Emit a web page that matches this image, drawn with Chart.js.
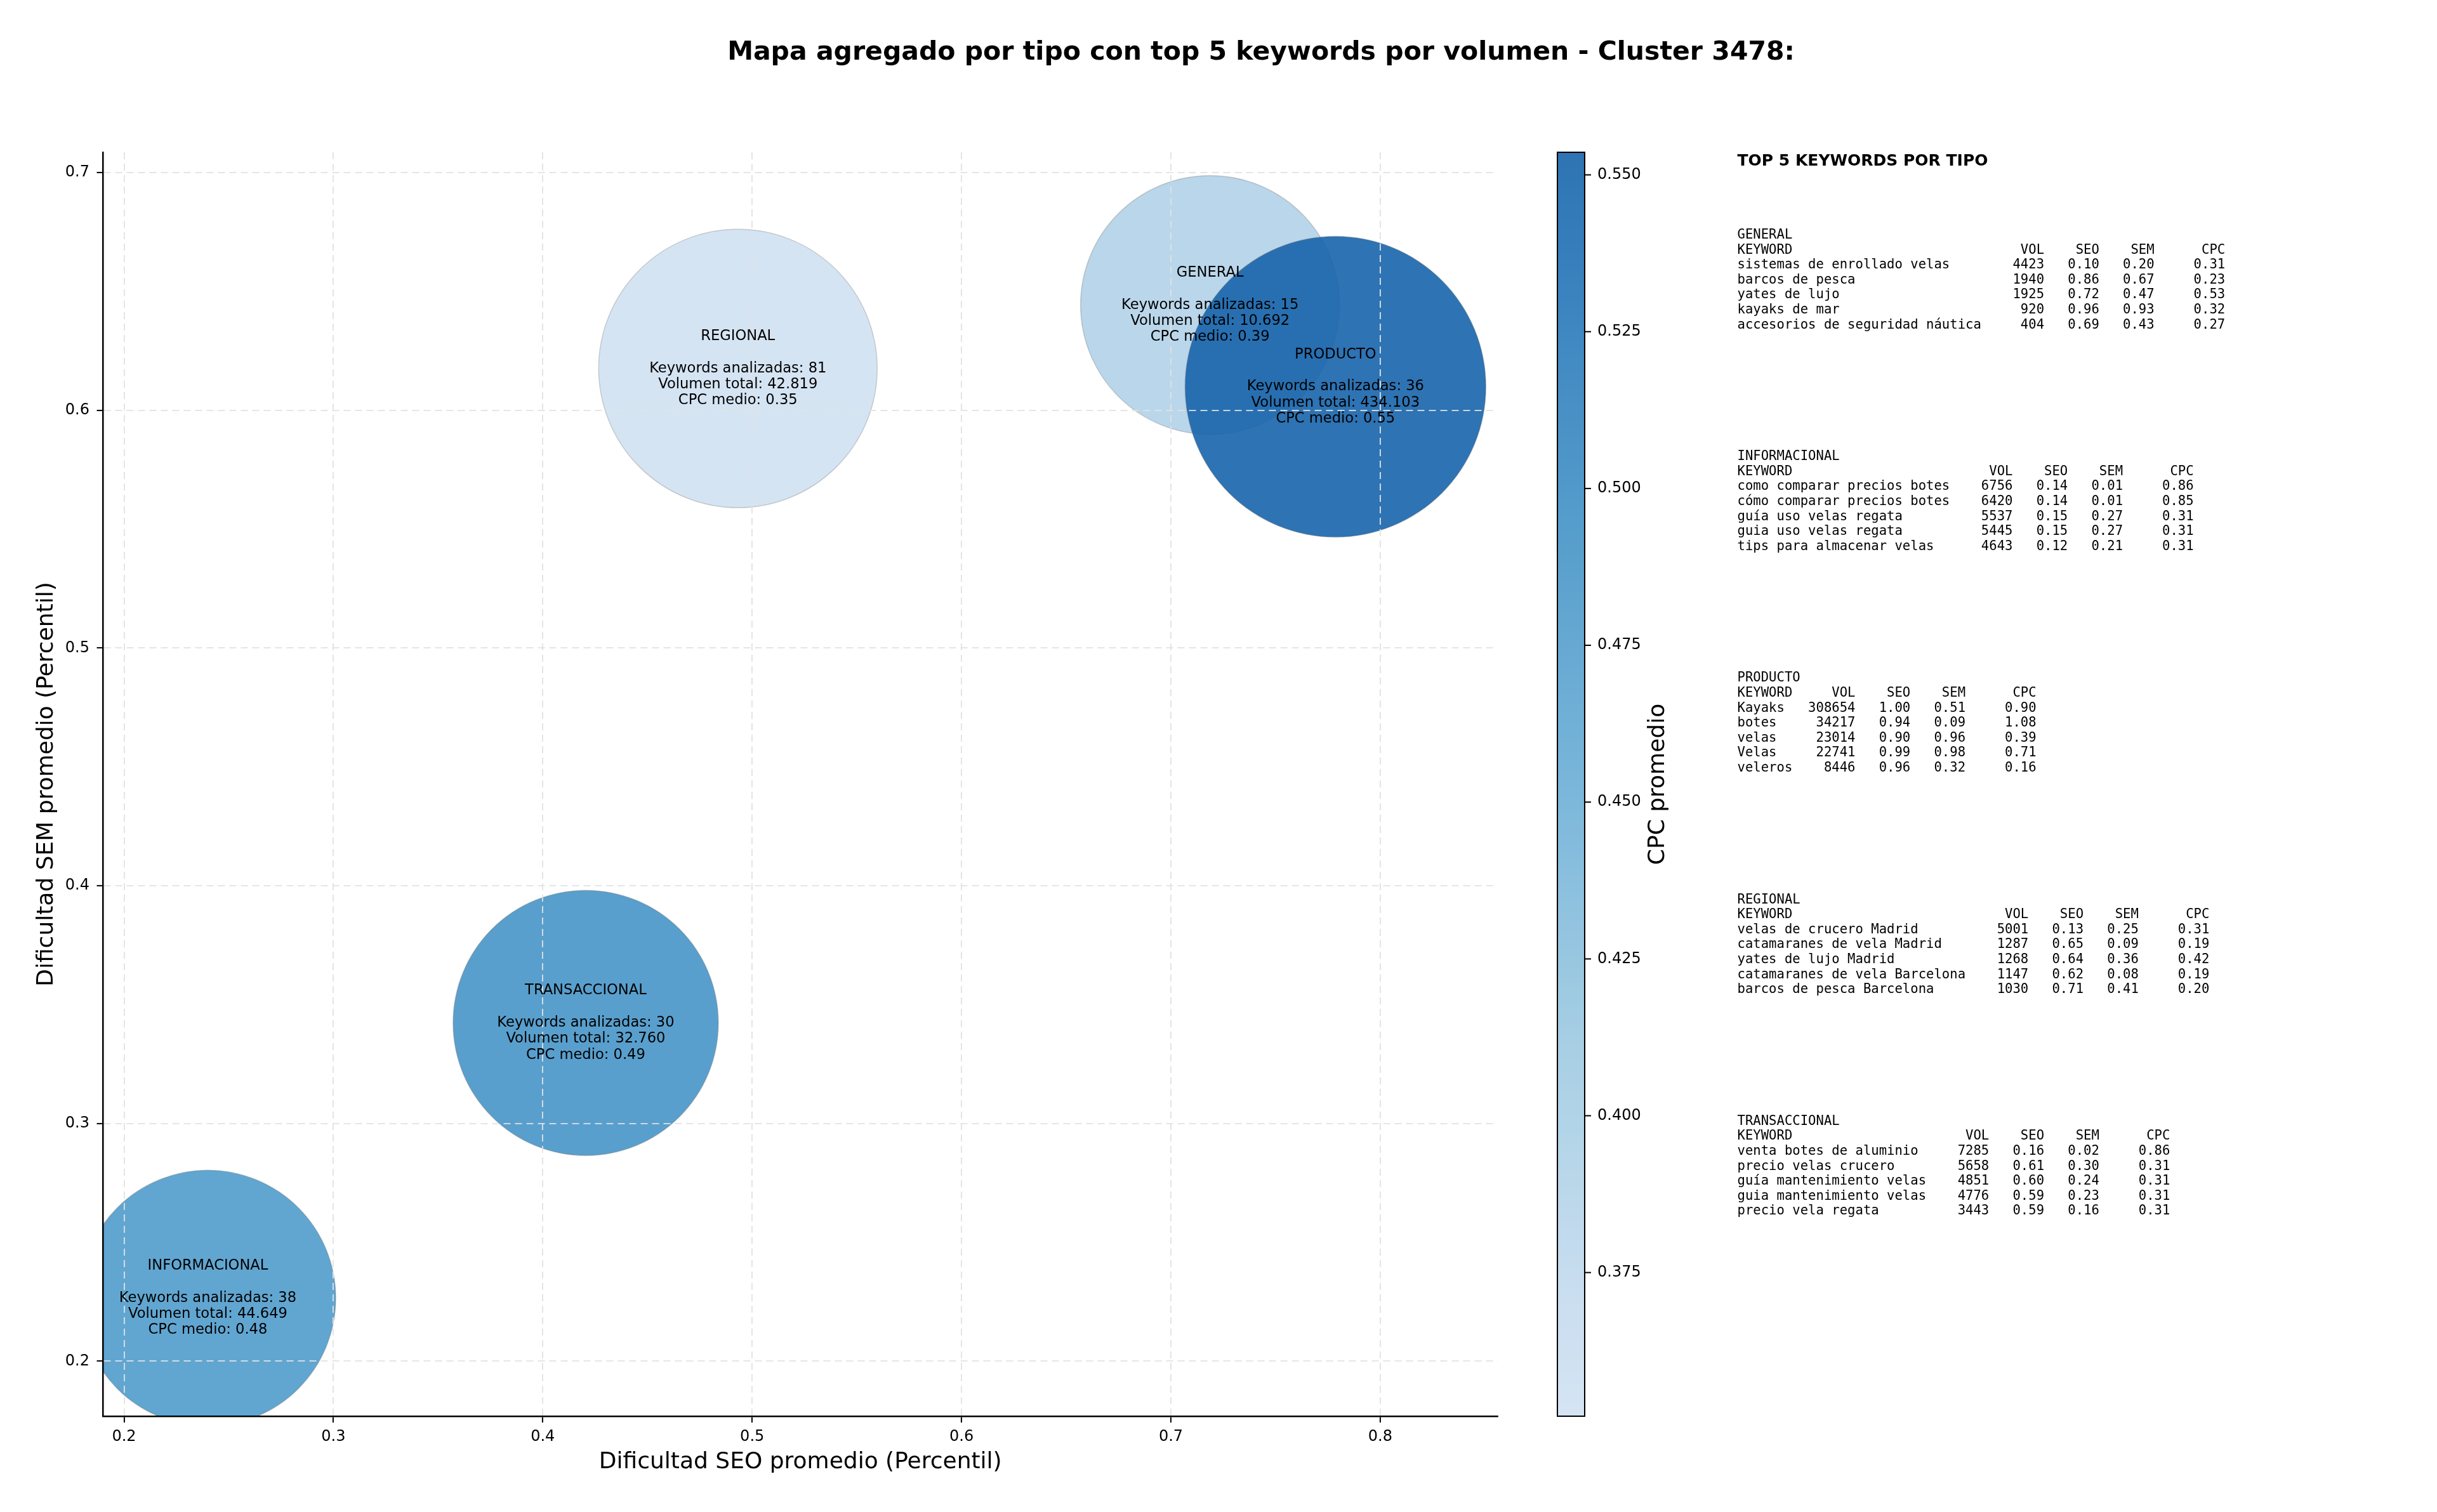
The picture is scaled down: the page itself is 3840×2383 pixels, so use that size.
<!DOCTYPE html>
<html>
<head>
<meta charset="utf-8">
<script src="https://cdn.jsdelivr.net/npm/chart.js@4.4.1/dist/chart.umd.min.js"></script>
<style>
html,body{margin:0;padding:0;background:#ffffff;}
canvas{display:block;}
</style>
</head>
<body>
<canvas id="c" width="3840" height="2383" style="width:3840px;height:2383px"></canvas>
<script>
// ---------------- DATA ----------------
const chartTitle = 'Mapa agregado por tipo con top 5 keywords por volumen - Cluster 3478:';
const types = ['GENERAL', 'INFORMACIONAL', 'PRODUCTO', 'REGIONAL', 'TRANSACCIONAL'];
const seoAvg = [0.7187, 0.2400, 0.7786, 0.4932, 0.4205];
const semAvg = [0.6443, 0.2265, 0.6099, 0.6176, 0.3423];
const keywordCount = [15, 38, 36, 81, 30];
const volumeTotal = [10692, 44649, 434103, 42819, 32760];
const cpcAvg = [0.39, 0.48, 0.5536, 0.3521, 0.49];
// relative bubble size (largest = 1)
const bubbleSize = [0.861, 0.851, 1.000, 0.926, 0.882];

const xTicks = [0.2, 0.3, 0.4, 0.5, 0.6, 0.7, 0.8];
const yTicks = [0.2, 0.3, 0.4, 0.5, 0.6, 0.7];
const cbarTicks = [0.375, 0.400, 0.425, 0.450, 0.475, 0.500, 0.525, 0.550];

const topKeywords = [
  ['sistemas de enrollado velas', 'barcos de pesca', 'yates de lujo', 'kayaks de mar', 'accesorios de seguridad náutica'],
  ['como comparar precios botes', 'cómo comparar precios botes', 'guía uso velas regata', 'guia uso velas regata', 'tips para almacenar velas'],
  ['Kayaks', 'botes', 'velas', 'Velas', 'veleros'],
  ['velas de crucero Madrid', 'catamaranes de vela Madrid', 'yates de lujo Madrid', 'catamaranes de vela Barcelona', 'barcos de pesca Barcelona'],
  ['venta botes de aluminio', 'precio velas crucero', 'guía mantenimiento velas', 'guia mantenimiento velas', 'precio vela regata']
];
const topVol = [
  [4423, 1940, 1925, 920, 404],
  [6756, 6420, 5537, 5445, 4643],
  [308654, 34217, 23014, 22741, 8446],
  [5001, 1287, 1268, 1147, 1030],
  [7285, 5658, 4851, 4776, 3443]
];
const topSeo = [
  [0.10, 0.86, 0.72, 0.96, 0.69],
  [0.14, 0.14, 0.15, 0.15, 0.12],
  [1.00, 0.94, 0.90, 0.99, 0.96],
  [0.13, 0.65, 0.64, 0.62, 0.71],
  [0.16, 0.61, 0.60, 0.59, 0.59]
];
const topSem = [
  [0.20, 0.67, 0.47, 0.93, 0.43],
  [0.01, 0.01, 0.27, 0.27, 0.21],
  [0.51, 0.09, 0.96, 0.98, 0.32],
  [0.25, 0.09, 0.36, 0.08, 0.41],
  [0.02, 0.30, 0.24, 0.23, 0.16]
];
const topCpc = [
  [0.31, 0.23, 0.53, 0.32, 0.27],
  [0.86, 0.85, 0.31, 0.31, 0.31],
  [0.90, 1.08, 0.39, 0.71, 0.16],
  [0.31, 0.19, 0.42, 0.19, 0.20],
  [0.86, 0.31, 0.31, 0.31, 0.31]
];

// ---------------- HELPERS ----------------
const BLUES = [[247,251,255],[222,235,247],[198,219,239],[158,202,225],[107,174,214],[66,146,198],[33,113,181],[8,81,156],[8,48,107]];
function blues(t) {
  t = Math.max(0, Math.min(1, t));
  const p = t * 8; const i = Math.min(7, Math.floor(p)); const f = p - i;
  return BLUES[i].map((c, k) => c + (BLUES[i + 1][k] - c) * f);
}
const vmin = Math.min(...cpcAvg), vmax = Math.max(...cpcAvg);
const ALPHA = 0.9;
function cmap(v) {
  const n = (v - vmin) / (vmax - vmin);
  const c = blues(0.2 + 0.6 * n);
  return `rgba(${Math.round(c[0])},${Math.round(c[1])},${Math.round(c[2])},${ALPHA})`;
}
function fmtThousands(v) { return String(v).replace(/\B(?=(\d{3})+(?!\d))/g, '.'); }

const R_MAX = 237;
const FONT = 'DejaVu Sans';
const MONO = 'DejaVu Sans Mono';

// ---------------- OVERLAY PLUGIN ----------------
const overlay = {
  id: 'overlay',
  beforeDraw(chart) {
    const ctx = chart.ctx;
    ctx.save();
    ctx.fillStyle = '#ffffff';
    ctx.fillRect(0, 0, chart.width, chart.height);
    ctx.restore();
  },
  afterDraw(chart) {
    const ctx = chart.ctx;
    const area = chart.chartArea;
    ctx.save();
    // Title
    ctx.fillStyle = '#000';
    ctx.font = `bold 41px "${FONT}"`;
    ctx.textAlign = 'center';
    ctx.textBaseline = 'middle';
    ctx.fillText(chartTitle, 1987, 83);

    // Bubble labels
    const meta = chart.getDatasetMeta(0);
    ctx.font = `22.6px "${FONT}"`;
    ctx.textAlign = 'center';
    ctx.textBaseline = 'middle';
    meta.data.forEach((el, i) => {
      const lines = [types[i], '', 'Keywords analizadas: ' + keywordCount[i],
        'Volumen total: ' + fmtThousands(volumeTotal[i]), 'CPC medio: ' + cpcAvg[i].toFixed(2)];
      lines.forEach((ln, j) => {
        if (ln) ctx.fillText(ln, el.x, el.y + (j - 2) * 25.3);
      });
    });

    // Colorbar
    const cbL = 2454, cbR = 2497, cbT = area.top, cbB = area.bottom;
    const toY = v => cbB - (v - vmin) / (vmax - vmin) * (cbB - cbT);
    for (let y = cbT; y < cbB; y++) {
      const v = vmax - ((y + 0.5 - cbT) / (cbB - cbT)) * (vmax - vmin);
      ctx.fillStyle = cmap(v);
      ctx.fillRect(cbL, y, cbR - cbL, 1);
    }
    ctx.strokeStyle = '#000';
    ctx.lineWidth = 2;
    ctx.strokeRect(cbL, cbT, cbR - cbL, cbB - cbT);
    ctx.font = `24px "${FONT}"`;
    ctx.textAlign = 'left';
    ctx.textBaseline = 'middle';
    ctx.fillStyle = '#000';
    cbarTicks.forEach(v => {
      const y = toY(v);
      ctx.beginPath();
      ctx.moveTo(cbR, y); ctx.lineTo(cbR + 10, y);
      ctx.lineWidth = 2; ctx.stroke();
      ctx.fillText(v.toFixed(3), 2517, y);
    });
    ctx.save();
    ctx.translate(2613, (cbT + cbB) / 2);
    ctx.rotate(-Math.PI / 2);
    ctx.font = `36px "${FONT}"`;
    ctx.textAlign = 'center';
    ctx.textBaseline = 'middle';
    ctx.fillText('CPC promedio', 0, 0);
    ctx.restore();

    // Right text panel
    ctx.textAlign = 'left';
    ctx.textBaseline = 'alphabetic';
    ctx.font = `bold 25px "${FONT}"`;
    ctx.fillText('TOP 5 KEYWORDS POR TIPO', 2737.5, 260.5);
    ctx.font = `20.6px "${MONO}"`;
    types.forEach((t, b) => {
      const kws = topKeywords[b];
      const w = Math.max(7, ...kws.map(k => k.length));
      const lines = [t, 'KEYWORD'.padEnd(w) + 'VOL'.padStart(8) + 'SEO'.padStart(7) + 'SEM'.padStart(7) + 'CPC'.padStart(9)];
      kws.forEach((k, r) => {
        lines.push(k.padEnd(w) + String(topVol[b][r]).padStart(8) + topSeo[b][r].toFixed(2).padStart(7) +
          topSem[b][r].toFixed(2).padStart(7) + topCpc[b][r].toFixed(2).padStart(9));
      });
      const y0 = 376 + b * 349.2;
      lines.forEach((ln, j) => ctx.fillText(ln, 2737.5, y0 + j * 23.6));
    });
    ctx.restore();
  }
};

// ---------------- CHART ----------------
const tickFont = {family: FONT, size: 24};
const titleFont = {family: FONT, size: 36};
new Chart(document.getElementById('c').getContext('2d'), {
  type: 'bubble',
  data: {
    datasets: [{
      data: types.map((t, i) => ({x: seoAvg[i], y: semAvg[i], r: bubbleSize[i] * R_MAX})),
      backgroundColor: cpcAvg.map(v => cmap(v)),
      hoverBackgroundColor: cpcAvg.map(v => cmap(v)),
      borderColor: 'rgba(110,110,110,0.3)',
      borderWidth: 1.5,
      hoverBorderWidth: 1.5,
      clip: 0
    }]
  },
  options: {
    responsive: false,
    animation: false,
    devicePixelRatio: 1,
    events: [],
    layout: {autoPadding: false, padding: {top: 240, left: 0, right: 1480, bottom: 0}},
    plugins: {legend: {display: false}, title: {display: false}, tooltip: {enabled: false}},
    scales: {
      x: {
        type: 'linear', min: 0.19, max: 0.8561,
        afterFit(s) { s.height = 151; },
        afterBuildTicks(s) { s.ticks = xTicks.map(v => ({value: v})); },
        ticks: {font: tickFont, color: '#000', padding: 8, maxRotation: 0, autoSkip: false, callback: v => v.toFixed(1)},
        grid: {color: '#e2e2e2', lineWidth: 1.8, tickColor: '#000', tickWidth: 2, tickLength: 10, z: 1},
        border: {display: true, color: '#000', width: 2.5, dash: [11, 7], z: 1},
        title: {display: true, text: 'Dificultad SEO promedio (Percentil)', font: titleFont, color: '#000', padding: {top: 0, bottom: 56.4}}
      },
      y: {
        type: 'linear', min: 0.17686, max: 0.70854,
        afterFit(s) { s.width = 162.5; },
        afterBuildTicks(s) { s.ticks = yTicks.map(v => ({value: v})); },
        ticks: {font: tickFont, color: '#000', padding: 11.5, autoSkip: false, callback: v => v.toFixed(1)},
        grid: {color: '#e2e2e2', lineWidth: 1.8, tickColor: '#000', tickWidth: 2, tickLength: 10, z: 1},
        border: {display: true, color: '#000', width: 2.5, dash: [11, 7], z: 1},
        title: {display: true, text: 'Dificultad SEM promedio (Percentil)', font: titleFont, color: '#000', padding: {top: 52.4, bottom: 0}}
      }
    }
  },
  plugins: [overlay]
});
</script>
</body>
</html>
